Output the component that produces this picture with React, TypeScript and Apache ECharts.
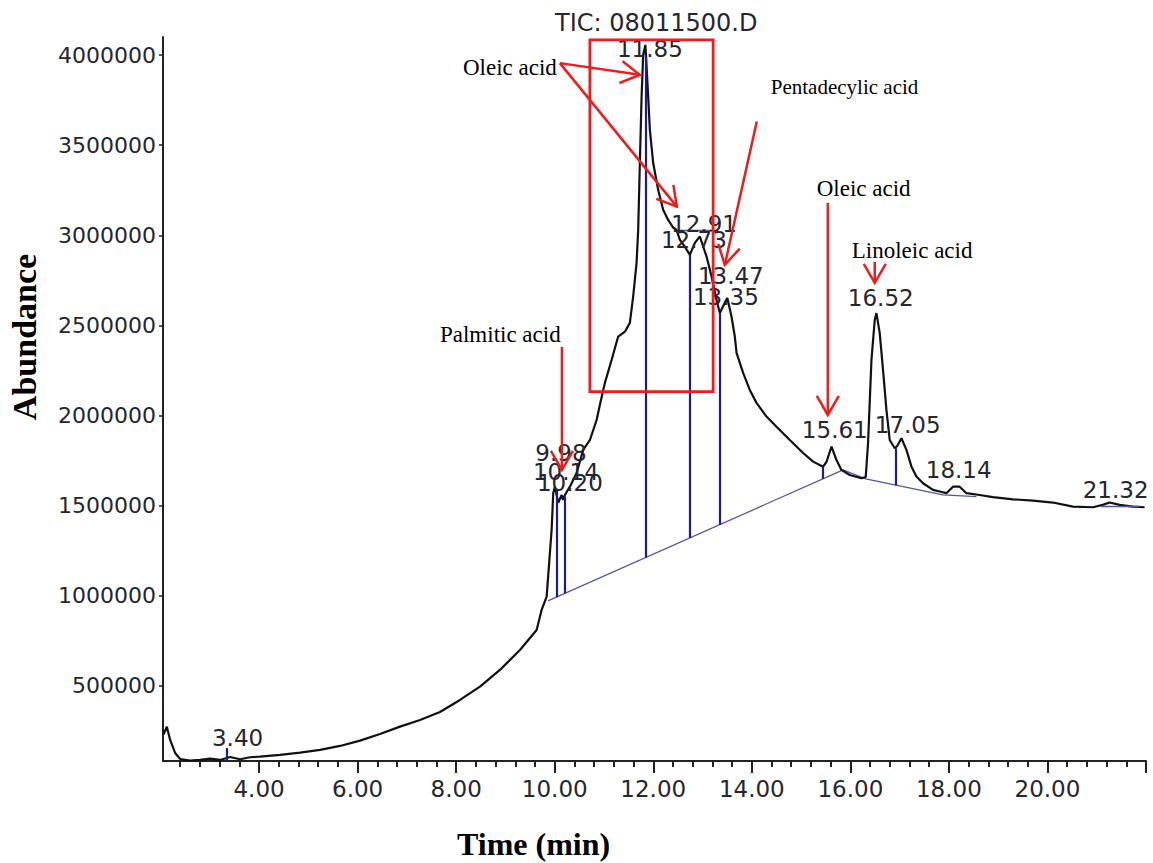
import React, { useEffect, useRef } from "react";
import * as echarts from "echarts";

// ---- TIC trace (time in min, abundance) ----
const timeMin = [
  2.06, 2.128, 2.195, 2.296, 2.398, 2.6, 2.803, 3.006, 3.209, 3.412, 3.615, 3.817, 4.02,
  4.426, 4.832, 5.237, 5.643, 6.049, 6.454, 6.86, 7.266, 7.671, 8.077, 8.483, 8.888,
  9.294, 9.633, 9.734, 9.836, 9.937, 9.97, 10.004, 10.071, 10.14, 10.172, 10.207, 10.308,
  10.444, 10.578, 10.714, 10.85, 10.917, 11.018, 11.154, 11.288, 11.424, 11.525, 11.592,
  11.661, 11.694, 11.728, 11.763, 11.795, 11.84, 11.897, 11.931, 11.998, 12.099, 12.201,
  12.302, 12.403, 12.472, 12.54, 12.641, 12.743, 12.844, 12.945, 13.081, 13.183, 13.284,
  13.351, 13.452, 13.503, 13.588, 13.655, 13.69, 13.824, 13.959, 14.095, 14.298, 14.501,
  14.771, 15.041, 15.244, 15.446, 15.515, 15.617, 15.718, 15.819, 15.988, 16.225, 16.312,
  16.359, 16.428, 16.495, 16.529, 16.596, 16.663, 16.732, 16.799, 16.901, 16.951, 17.037,
  17.138, 17.24, 17.341, 17.475, 17.677, 17.813, 17.949, 18.083, 18.219, 18.355, 18.625,
  18.894, 19.3, 19.706, 20.112, 20.517, 20.923, 21.12, 21.262, 21.465, 21.734, 21.972,
];
const abundance = [
  230000, 273600, 199800, 127600, 94300, 84900, 88800, 96000, 88800, 105400, 92700, 103800, 107100,
  116500, 129300, 144300, 166500, 195900, 233100, 273600, 310700, 355100, 421700, 495500, 588200,
  699200, 810200, 921100, 994900, 1365000, 1570000, 1605000, 1515000, 1559000, 1532000, 1559000, 1605000,
  1681000, 1809000, 1864000, 1975000, 2059000, 2181000, 2308000, 2438000, 2465000, 2514000, 2660000,
  2847000, 3030000, 3402000, 3769000, 4001000, 4056000, 3769000, 3585000, 3402000, 3252000, 3141000,
  3085000, 3043000, 3030000, 2974000, 2937000, 2891000, 2958000, 2993000, 2882000, 2771000, 2641000,
  2569000, 2625000, 2652000, 2549000, 2438000, 2347000, 2236000, 2142000, 2070000, 1994000, 1938000,
  1864000, 1792000, 1744000, 1716000, 1742000, 1827000, 1753000, 1698000, 1670000, 1652000, 1659000,
  1846000, 2308000, 2530000, 2568000, 2457000, 2253000, 2031000, 1864000, 1818000, 1831000, 1874000,
  1809000, 1716000, 1661000, 1624000, 1587000, 1578000, 1569000, 1605000, 1605000, 1569000, 1559000,
  1547000, 1535000, 1528000, 1517000, 1494000, 1491000, 1504000, 1517000, 1504000, 1494000, 1491000,
];

// ---- peak retention-time labels (label centre in data units) ----
const peakLabels = ["3.40", "9.98", "10.14", "10.20", "11.85", "12.91", "12.73", "13.47", "13.35", "15.61", "16.52", "17.05", "18.14", "21.32"];
const peakLabelTime = [3.564, 10.126, 10.227, 10.308, 11.931, 13.03, 12.824, 13.574, 13.473, 15.684, 16.617, 17.164, 18.199, 21.383];
const peakLabelAbund = [210900, 1792000, 1687000, 1626000, 4034000, 3063000, 2974000, 2775000, 2658000, 1920000, 2652000, 1948000, 1698000, 1587000];

// ---- integration drop lines ----
const dropTime = [3.345, 10.04, 10.21, 11.85, 12.74, 13.35, 15.44, 16.93];
const dropBase = [88800, 992000, 1013000, 1212000, 1320000, 1394000, 1648000, 1613000];
const dropTop = [155000, 1587000, 1550000, 4000000, 2891000, 2569000, 1716000, 1818000];

// ---- integration baselines ----
const baselineTime = [9.862, 15.852, 16.312, 17.88, 18.558];
const baselineAbund = [971000, 1698000, 1648000, 1559000, 1550000];
const skimTime = [12.499, 13.189];
const skimAbund = [3030000, 3030000];
const tailBaseTime = [21.09, 21.87];
const tailBaseAbund = [1494000, 1494000];

// ---- axis ticks ----
const xTickLabels = [4, 6, 8, 10, 12, 14, 16, 18, 20];
const xMajorTicks = [4, 6, 8, 10, 12, 14, 16, 18, 20, 22];
const yTicks = [500000, 1000000, 1500000, 2000000, 2500000, 3000000, 3500000, 4000000];

// ---- annotations (data units) ----
const annoText = ["Oleic acid", "Pentadecylic acid", "Palmitic acid", "Oleic acid", "Linoleic acid"];
const annoTime = [8.138, 14.385, 7.671, 15.318, 16.028];
const annoAbund = [3929000, 3823000, 2447000, 3257000, 2913000];
const annoSize = [23, 21, 23, 23, 23];

const arrowTailTime = [10.105, 10.105, 14.101, 10.146, 15.542, 16.495];
const arrowTailAbund = [3955000, 3955000, 3631000, 2381000, 3180000, 2852000];
const arrowTipTime = [11.728, 12.479, 13.452, 10.146, 15.542, 16.495];
const arrowTipAbund = [3890000, 3159000, 2836000, 1698000, 2003000, 2736000];

const boxTime = [10.714, 13.215];
const boxAbund = [4084000, 2132000];

const FONT = "'DejaVu Sans', sans-serif";
const SERIF = "'Liberation Serif', 'Times New Roman', serif";
const TEXT = "#26262e";

export default function App() {
  const ref = useRef<HTMLDivElement>(null);

  useEffect(() => {
    if (!ref.current) return;
    const chart = echarts.init(ref.current, null, { renderer: "svg" });

    const minorTicks: number[] = [];
    for (let k = 6; k <= 54; k++) {
      if (k % 5 !== 0) minorTicks.push(Math.round(k * 0.4 * 10) / 10);
    }

    const tic = timeMin.map((t, i) => [t, abundance[i]]);
    const base = baselineTime.map((t, i) => [t, baselineAbund[i]]);

    const dropLines = dropTime.map((t, i) => [
      { coord: [t, dropBase[i]] },
      { coord: [t, dropTop[i]] },
    ]);
    const thinLines = [
      [{ coord: [skimTime[0], skimAbund[0]] }, { coord: [skimTime[1], skimAbund[1]] }],
      [{ coord: [tailBaseTime[0], tailBaseAbund[0]] }, { coord: [tailBaseTime[1], tailBaseAbund[1]] }],
    ];

    chart.setOption({
      animation: false,
      backgroundColor: "#ffffff",
      textStyle: { fontFamily: FONT },
      grid: { left: 163, right: 7, top: 37, bottom: 102, containLabel: false },
      xAxis: [
        {
          type: "value",
          min: 2.05,
          max: 22,
          position: "bottom",
          axisLine: { show: true, lineStyle: { color: "#222", width: 2 } },
          axisTick: { show: true, customValues: xMajorTicks, length: 12, lineStyle: { color: "#222", width: 2 } },
          axisLabel: {
            show: true,
            customValues: xTickLabels,
            formatter: (v: number) => v.toFixed(2),
            fontFamily: FONT,
            fontSize: 23,
            color: TEXT,
            margin: 16,
          },
          splitLine: { show: false },
        },
        {
          type: "value",
          min: 2.05,
          max: 22,
          position: "bottom",
          axisLine: { show: false },
          axisTick: { show: true, customValues: minorTicks, length: 6, lineStyle: { color: "#222", width: 2 } },
          axisLabel: { show: false },
          splitLine: { show: false },
        },
      ],
      yAxis: {
        type: "value",
        min: 83000,
        max: 4100000,
        axisLine: { show: true, lineStyle: { color: "#222", width: 2 } },
        axisTick: { show: true, customValues: yTicks, length: 4, lineStyle: { color: "#222", width: 1.5 } },
        axisLabel: {
          show: true,
          customValues: yTicks,
          formatter: (v: number) => String(Math.round(v)),
          fontFamily: FONT,
          fontSize: 22,
          color: TEXT,
          margin: 7,
        },
        splitLine: { show: false },
      },
      series: [
        {
          name: "baseline",
          type: "line",
          data: base,
          showSymbol: false,
          symbol: "none",
          lineStyle: { color: "#5656a6", width: 1.3 },
          z: 2,
          silent: true,
          markLine: {
            silent: true,
            symbol: ["none", "none"],
            label: { show: false },
            lineStyle: { color: "#1c1c8e", width: 2.2, type: "solid" },
            data: [
              ...dropLines,
              ...thinLines.map((p) => [
                { ...p[0], lineStyle: { color: "#5656a6", width: 1.3, type: "solid" } },
                p[1],
              ]),
            ],
          },
        },
        {
          name: "TIC",
          type: "line",
          data: tic,
          showSymbol: false,
          symbol: "none",
          lineStyle: { color: "#111", width: 2.2 },
          z: 3,
          silent: true,
        },
      ],
    });

    const px = (t: number, v: number) =>
      chart.convertToPixel({ xAxisIndex: 0, yAxisIndex: 0 }, [t, v]) as number[];

    const red = "#ee1c1c";
    const graphics: any[] = [];

    // peak retention-time labels
    peakLabels.forEach((s, i) => {
      const p = px(peakLabelTime[i], peakLabelAbund[i]);
      graphics.push({
        type: "text",
        x: p[0],
        y: p[1],
        style: {
          text: s,
          fontFamily: FONT,
          fontSize: 23,
          fill: TEXT,
          align: "center",
          verticalAlign: "middle",
        },
        z: 9,
      });
    });

    // red box
    const b0 = px(boxTime[0], boxAbund[0]);
    const b1 = px(boxTime[1], boxAbund[1]);
    graphics.push({
      type: "rect",
      shape: { x: b0[0], y: b0[1], width: b1[0] - b0[0], height: b1[1] - b0[1] },
      style: { fill: "none", stroke: red, lineWidth: 2.8 },
      z: 10,
    });

    // arrows
    arrowTailTime.forEach((_, i) => {
      const a = px(arrowTailTime[i], arrowTailAbund[i]);
      const b = px(arrowTipTime[i], arrowTipAbund[i]);
      const ang = Math.atan2(a[1] - b[1], a[0] - b[0]);
      const L = 22;
      const s = Math.PI / 6;
      const p1 = [b[0] + L * Math.cos(ang + s), b[1] + L * Math.sin(ang + s)];
      const p2 = [b[0] + L * Math.cos(ang - s), b[1] + L * Math.sin(ang - s)];
      graphics.push({
        type: "line",
        shape: { x1: a[0], y1: a[1], x2: b[0], y2: b[1] },
        style: { stroke: red, lineWidth: 2.5 },
        z: 10,
      });
      graphics.push({
        type: "polyline",
        shape: { points: [p1, b, p2] },
        style: { stroke: red, lineWidth: 2.5, fill: "none" },
        z: 10,
      });
    });

    // compound annotations
    annoText.forEach((txt, i) => {
      const p = px(annoTime[i], annoAbund[i]);
      graphics.push({
        type: "text",
        x: p[0],
        y: p[1],
        style: {
          text: txt,
          fontFamily: SERIF,
          fontSize: annoSize[i],
          fill: "#000",
          align: "left",
          verticalAlign: "middle",
        },
        z: 11,
      });
    });

    // title and axis names
    graphics.push({
      type: "text",
      x: 555,
      y: 23,
      style: {
        text: "TIC: 08011500.D",
        fontFamily: FONT,
        fontSize: 24,
        fill: TEXT,
        align: "left",
        verticalAlign: "middle",
      },
    });
    graphics.push({
      type: "text",
      x: 457,
      y: 844,
      style: {
        text: "Time (min)",
        fontFamily: SERIF,
        fontSize: 32,
        fontWeight: "bold",
        fill: "#000",
        align: "left",
        verticalAlign: "middle",
      },
    });
    graphics.push({
      type: "text",
      x: 24,
      y: 337,
      rotation: Math.PI / 2,
      style: {
        text: "Abundance",
        fontFamily: SERIF,
        fontSize: 34,
        fontWeight: "bold",
        fill: "#000",
        align: "center",
        verticalAlign: "middle",
      },
    });

    chart.setOption({ graphic: graphics });

    return () => chart.dispose();
  }, []);

  return (
    <div
      ref={ref}
      style={{ position: "fixed", left: 0, top: 0, width: 1153, height: 863, background: "#fff" }}
    />
  );
}
